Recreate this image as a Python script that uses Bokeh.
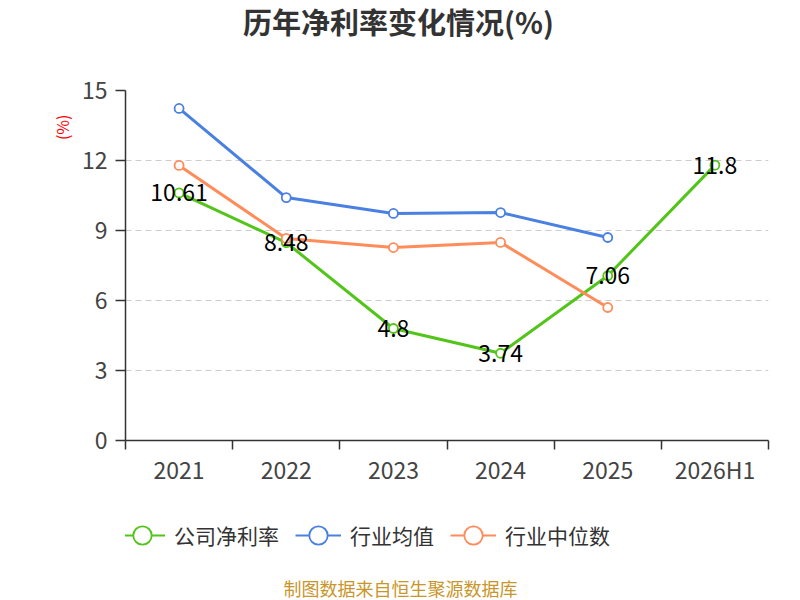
from bokeh.plotting import figure
from bokeh.layouts import column
from bokeh.models import (ColumnDataSource, Range1d, LinearAxis,
                          FixedTicker, Legend, LegendItem, Title, Label)
from bokeh.core.properties import value
from bokeh.embed import file_html
from bokeh.resources import INLINE

years = ["2021", "2022", "2023", "2024", "2025", "2026H1"]
company = [10.61, 8.48, 4.8, 3.74, 7.06, 11.8]
ind_avg = [14.23, 10.41, 9.73, 9.77, 8.70]
ind_med = [11.79, 8.66, 8.27, 8.49, 5.70]
y_ticks = [0, 3, 6, 9, 12, 15]

title_text = "历年净利率变化情况(%)"
unit_text = "(%)"
series_names = ["公司净利率", "行业均值", "行业中位数"]
source_text = "制图数据来自恒生聚源数据库"

GREEN = "#52c41a"
BLUE = "#4a80e2"
ORANGE = "#ff8c5a"
COLORS = [GREEN, BLUE, ORANGE]
CJK = "Noto Sans CJK SC"

centers = [i + 0.5 for i in range(len(years))]
bounds = list(range(len(years) + 1))


def strip(height):
    f = figure(width=800, height=height, x_range=Range1d(0, 1),
               y_range=Range1d(0, 1), output_backend="svg",
               toolbar_location=None, x_axis_location=None,
               y_axis_location=None, min_border_left=125,
               min_border_right=32, min_border_top=0, min_border_bottom=0)
    f.outline_line_color = None
    f.grid.grid_line_color = None
    return f


# ---------------- title strip ----------------
h = strip(46)
h.add_layout(Label(x=273, y=26, x_units="screen", y_units="screen",
                   text=title_text, text_align="center",
                   text_baseline="middle", text_font_size="29px",
                   text_font=CJK, text_font_style="bold",
                   text_color="#333333"))

# ---------------- main chart ----------------
p = figure(width=800, height=442, x_range=Range1d(0, len(years)),
           y_range=Range1d(0, 15),
           output_backend="svg", toolbar_location=None,
           x_axis_location=None, y_axis_location=None,
           min_border_left=125, min_border_right=32, min_border_top=44,
           min_border_bottom=48)
p.outline_line_color = None
p.xgrid.grid_line_color = None
p.ygrid.ticker = FixedTicker(ticks=y_ticks)
p.ygrid.grid_line_color = "#cccccc"
p.ygrid.grid_line_dash = "6 4"
p.ygrid.grid_line_width = 1.2

yax = LinearAxis(ticker=FixedTicker(ticks=y_ticks))
yax.axis_line_color = "#333333"
yax.axis_line_width = 1.5
yax.major_tick_line_color = "#333333"
yax.major_tick_line_width = 1.5
yax.major_tick_out = 10
yax.major_tick_in = 0
yax.minor_tick_line_color = None
yax.major_label_text_font_size = "23px"
yax.major_label_text_color = "#444444"
yax.major_label_text_font = CJK
yax.major_label_standoff = 8
p.add_layout(yax, "left")

xax = LinearAxis(ticker=FixedTicker(ticks=centers, minor_ticks=bounds))
xax.major_label_overrides = {c: y for c, y in zip(centers, years)}
xax.axis_line_color = "#333333"
xax.axis_line_width = 1.5
xax.major_tick_line_color = None
xax.major_tick_out = 0
xax.major_tick_in = 0
xax.minor_tick_line_color = "#333333"
xax.minor_tick_line_width = 1.5
xax.minor_tick_out = 9
xax.minor_tick_in = 0
xax.major_label_text_font_size = "23px"
xax.major_label_text_color = "#444444"
xax.major_label_text_font = CJK
xax.major_label_standoff = 2
p.add_layout(xax, "below")

src_c = ColumnDataSource(dict(x=centers, y=company, t=[str(v) for v in company]))
src_a = ColumnDataSource(dict(x=centers[:len(ind_avg)], y=ind_avg))
src_m = ColumnDataSource(dict(x=centers[:len(ind_med)], y=ind_med))
sources = [src_c, src_a, src_m]

for src, col in zip(sources, COLORS):
    p.line("x", "y", source=src, line_color=col, line_width=3)
    p.scatter("x", "y", source=src, marker="circle", size=9,
              line_color=col, line_width=1.8, fill_color="white")

p.text("x", "y", text="t", source=src_c, text_align="center",
       text_baseline="middle", text_font_size="23px", text_color="#000000",
       text_font=value(CJK))

ut = Title(text=unit_text, align="right", text_font_size="16px",
           text_font=CJK, text_font_style="normal", text_color="#ff0000",
           offset=24)
p.add_layout(ut, "left")

# ---------------- legend strip ----------------
q = strip(84)
items = []
for name, src, col in zip(series_names, sources, COLORS):
    # same series, outside this strip's view: only the legend keys show
    ln = q.line("x", "y", source=src, line_color=col, line_width=2)
    sc = q.scatter("x", "y", source=src, marker="circle", size=9,
                   line_color=col, line_width=1.8, fill_color="white")
    items.append(LegendItem(label=name, renderers=[ln, sc]))

legend = Legend(items=items, orientation="horizontal", location=(-6, 11),
                border_line_color=None, background_fill_alpha=0,
                label_text_font_size="21px", label_text_color="#333333",
                label_text_font=CJK, glyph_width=46, glyph_height=52,
                label_standoff=9, spacing=16, padding=0, margin=0)
q.add_layout(legend, "center")

# ---------------- source strip ----------------
s = strip(28)
s.add_layout(Label(x=275, y=13, x_units="screen", y_units="screen",
                   text=source_text, text_align="center",
                   text_baseline="middle", text_font_size="18px",
                   text_font=CJK, text_color="#c8962a"))

layout = column(h, p, q, s, spacing=0)
open("out.html", "w").write(file_html(layout, INLINE))
